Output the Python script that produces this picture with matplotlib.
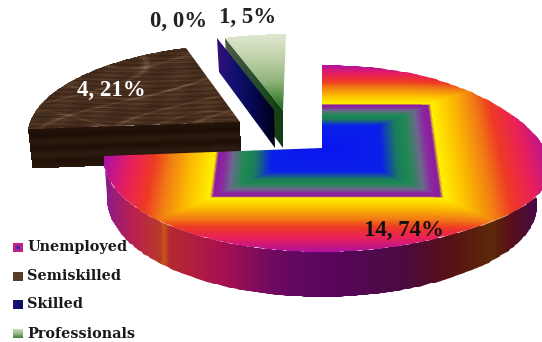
import matplotlib
matplotlib.use("Agg")
import matplotlib.pyplot as plt
from matplotlib.colors import LinearSegmentedColormap
from matplotlib.patches import Polygon
import numpy as np

# Workforce breakdown
categories = ["Unemployed", "Semiskilled", "Skilled", "Professionals"]
counts = [14, 4, 0, 1]

total = sum(counts)
percents = [round(100 * c / total) for c in counts]
edges = np.cumsum([0] + counts) / total * 360.0

# Camera for the tilted disc: pixel canvas, u to the right, v away from viewer
CX, CY = 322.0, 148.0
AX_U, AX_V = 217.0, 92.3
PERSP = 0.112
DEPTH = 40.0


def project(u, v, z=0.0):
    w = 1 + PERSP * v
    # right-hand part of the disc swings towards the viewer
    swing = (np.clip(np.asarray(u, dtype=float) - 0.4, 0, None) / 0.6) ** 2
    x = CX + AX_U * u / w * (1 - 0.015 * z) + 10 * (1 - z) * swing
    y = CY - AX_V * v / w + DEPTH * z * (1 - 0.12 * swing) / w + 11 * swing
    return x, y


def rim(start, stop, offset=(0.0, 0.0), z=0.0, n=200):
    t = np.radians(np.linspace(start, stop, n))
    return project(np.sin(t) + offset[0], np.cos(t) + offset[1], z)


def wedge(start, stop, offset):
    xs, ys = rim(start, stop, offset)
    ax0, ay0 = project(offset[0], offset[1])
    return np.column_stack([np.r_[ax0, xs], np.r_[ay0, ys]])


def radial_wall(angle, offset):
    su, cv = np.sin(np.radians(angle)), np.cos(np.radians(angle))
    us = np.array([offset[0], su + offset[0]])
    vs = np.array([offset[1], cv + offset[1]])
    tx, ty = project(us, vs)
    bx, by = project(us, vs, 1)
    return np.array([[tx[0], ty[0]], [tx[1], ty[1]], [bx[1], by[1]], [bx[0], by[0]]])


def ramp(stops):
    return LinearSegmentedColormap.from_list("r", stops, N=512)


def fill_mesh(X, Y, C, cmap, outline, vmin=0, vmax=1):
    clip = Polygon(outline, closed=True, transform=ax.transData, fc="none", ec="none")
    ax.add_patch(clip)
    m = ax.pcolormesh(X, Y, C, cmap=cmap, vmin=vmin, vmax=vmax, shading="flat")
    m.set_clip_path(clip)
    return m


rainbow = ramp([
    (0.00, "#0a14f0"), (0.25, "#0a20e8"), (0.32, "#1a7a60"), (0.37, "#1d8a50"),
    (0.425, "#6a6a8a"), (0.46, "#8a2aa0"), (0.492, "#8c1aa0"), (0.508, "#fff000"),
    (0.60, "#fcc000"), (0.71, "#f07a14"), (0.78, "#ee3a24"), (0.88, "#e8205a"), (1.00, "#b010a0"),
])
rim_shade = ramp([
    (0.000, "#8a1a8a"), (0.060, "#b81f50"), (0.125, "#b83a28"), (0.133, "#c85a14"),
    (0.145, "#b52a30"), (0.265, "#a81050"), (0.380, "#6e0a60"), (0.500, "#5a0560"),
    (0.680, "#4a0a40"), (0.790, "#581015"), (0.885, "#5c2a08"), (0.920, "#5a1212"),
    (0.980, "#4a0840"), (1.000, "#400550"),
])
wood = ramp([(0.0, "#2a1a10"), (0.35, "#442c1c"), (0.6, "#644832"), (1.0, "#9c846c")])
wood_side = ramp([
    (0.00, "#24140a"), (0.18, "#1b0e06"), (0.34, "#2c1a0e"), (0.50, "#1d0f07"),
    (0.68, "#2d1b10"), (0.84, "#1f1008"), (1.00, "#291709"),
])
sage = ramp([(0.0, "#dde6cf"), (0.35, "#b9cda2"), (0.62, "#8fb078"), (0.82, "#4f8c42"), (1.0, "#1c661e")])
sage_face = ramp(["#4d5c40", "#33503a", "#1c4a1c", "#123a12"])
navy_face = ramp([(0.0, "#3a0f7a"), (0.35, "#10106e"), (0.70, "#05054a"), (1.0, "#000018")])
swatch_first = ramp([(0.0, "#2a20c0"), (0.45, "#8a2aa0"), (0.75, "#d8206a"), (1.0, "#c0208a")])
swatch_prof = ramp(["#cfdcb8", "#98b880", "#3c7c3c"])

fig = plt.figure(figsize=(5.42, 3.42), dpi=100)
ax = fig.add_axes([0, 0, 1, 1])
ax.set_xlim(0, 542)
ax.set_ylim(342, 0)
ax.set_autoscale_on(False)
ax.axis("off")

# Pulled-out slices, offsets in disc units
off_semi = (-0.39, 0.291)
off_skilled = (-0.232, 0.432)
off_prof = (-0.19, 0.432)

# Professionals: radial wall first, then the top
a0, a1 = edges[3], edges[4]
gx, gy = np.meshgrid(np.linspace(215, 295, 81), np.linspace(30, 155, 126))
fill_mesh(gx, gy, (gx[:-1, :-1] - 225) / 60, sage_face, radial_wall(a0, off_prof))
fill_mesh(gx, gy, (gy[:-1, :-1] - 35) / 75, sage, wedge(a0, a1, off_prof))

# Skilled has no width, only its radial wall shows
gx, gy = np.meshgrid(np.linspace(205, 285, 81), np.linspace(30, 155, 126))
fill_mesh(gx, gy, (gx[:-1, :-1] - 214) / 60, navy_face, radial_wall(edges[2], off_skilled))

# Semiskilled: banded front wall, then the marbled top
a0, a1 = edges[1], edges[2]
ss, zz = np.meshgrid(np.linspace(0, 1, 3), np.linspace(0, 1, 61))
wx, wy = project(off_semi[0] + ss * np.sin(np.radians(a0)),
                 off_semi[1] + ss * np.cos(np.radians(a0)), zz)
ax.pcolormesh(wx, wy, zz[:-1, :-1], cmap=wood_side, vmin=0, vmax=1, shading="flat")

gx, gy = np.meshgrid(np.linspace(15, 250, 471), np.linspace(40, 135, 191))
px, py = gx[:-1, :-1], gy[:-1, :-1]
grain = (0.36
         + 0.07 * np.sin(py * 1.37 + 2.3 * np.sin(px * 0.031))
         + 0.05 * np.sin(py * 3.1 + 1.1 * np.sin(px * 0.083) + px * 0.02)
         + 0.07 * np.sin(px * 0.13 + py * 0.21) * np.sin(px * 0.047 - py * 0.17)
         + 0.20 * np.exp(-(np.sin(px * 0.043 + py * 0.071 + 1.8 * np.sin(py * 0.063)) ** 2) * 40)
         + 0.16 * np.exp(-(np.sin(py * 0.105 + 0.9 * np.sin(px * 0.037)) ** 2) * 50))
fill_mesh(gx, gy, grain, wood, wedge(a0, a1, off_semi))

# Unemployed: outer wall shaded along x, then the top with the square gradient
a0, a1 = edges[0], edges[1]
xs, ys = rim(90, a1)
xb, yb = rim(90, a1, z=1)
outline = np.column_stack([np.r_[xs, xb[::-1]], np.r_[ys, yb[::-1]]])
gx, gy = np.meshgrid(np.linspace(100, 560, 461), np.linspace(150, 305, 3))
fill_mesh(gx, gy, (gx[:-1, :-1] - 105) / 437, rim_shade, outline)

n = 640
uu, vv = np.meshgrid(np.linspace(-1.02, 1.06, n + 1), np.linspace(-1.02, 1.02, n + 1))
mx, my = project(uu, vv)
cu = 0.5 * (uu[:-1, :-1] + uu[1:, 1:]) - 0.02
cv = 0.5 * (vv[:-1, :-1] + vv[1:, 1:])
fill_mesh(mx, my, np.clip(np.maximum(np.abs(cu), np.abs(cv)), 0, 1), rainbow, wedge(a0, a1, (0, 0)))

# Value labels
serif = "Liberation Serif"
label_pos = [(404, 230), (111, 90), (179, 21), (248, 17)]
label_col = ["#111111", "#ffffff", "#222222", "#222222"]
for cnt, pct, pos, col in zip(counts, percents, label_pos, label_col):
    ax.text(pos[0], pos[1], f"{cnt}, {pct}%", family=serif, weight="bold", size=16.5,
            color=col, ha="center", va="center")

# Legend
legend_y = [247, 276, 304, 333]
sx = np.linspace(13, 23, 11)
for i, (name, ly) in enumerate(zip(categories, legend_y)):
    gx, gy = np.meshgrid(sx, np.linspace(ly - 4.5, ly + 4.5, 10))
    du = (gx[:-1, :-1] + 0.5 - 18) / 5
    dv = (gy[:-1, :-1] + 0.5 - ly) / 4.5
    if i == 0:
        ax.pcolormesh(gx, gy, np.maximum(np.abs(du), np.abs(dv)), cmap=swatch_first, vmin=0, vmax=1)
    elif i == 1:
        ax.pcolormesh(gx, gy, 0.5 + 0.05 * np.sin(gy[:-1, :-1] * 2), cmap=wood, vmin=0, vmax=1)
    elif i == 2:
        ax.pcolormesh(gx, gy, 0.15 + 0.35 * (du + 1) / 2, cmap=navy_face, vmin=0, vmax=1)
    else:
        ax.pcolormesh(gx, gy, (dv + 1) / 2, cmap=swatch_prof, vmin=0, vmax=1)
    ax.text(27, ly + 0.5, name, family="DejaVu Serif", weight="bold", size=10.4, color="#1a1a1a",
            ha="left", va="center")

fig.savefig("out.png", dpi=100)
